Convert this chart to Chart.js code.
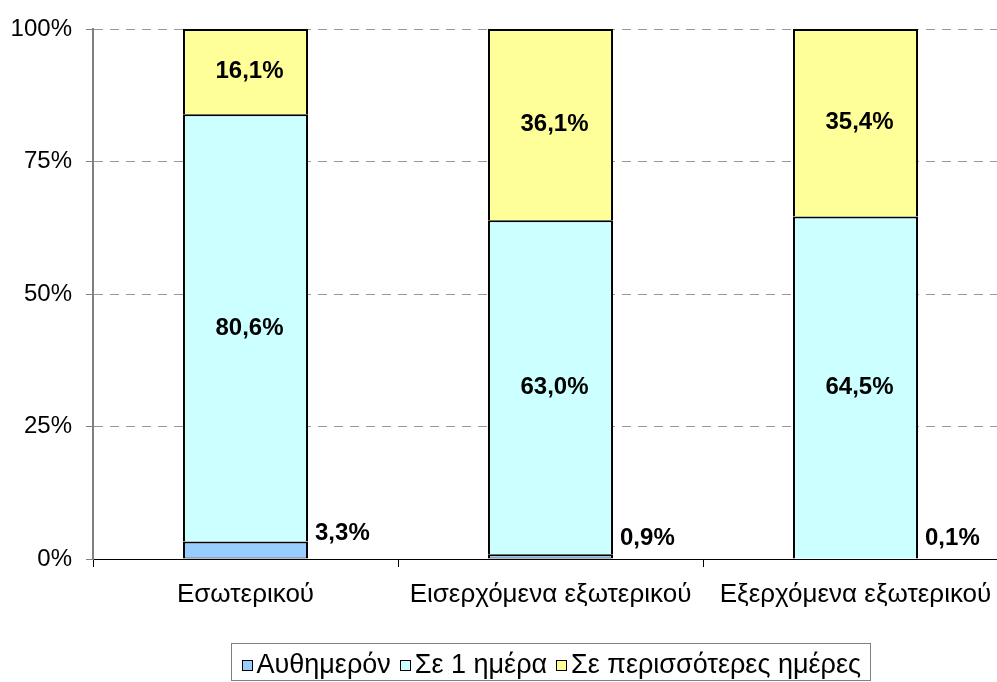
<!DOCTYPE html>
<html>
<head>
<meta charset="utf-8">
<script src="https://cdn.jsdelivr.net/npm/chart.js@4/dist/chart.umd.min.js"></script>
<style>
  html, body { margin: 0; padding: 0; background: #fff; overflow: hidden; }
  #wrap { width: 1010px; height: 682px; position: relative; }
</style>
</head>
<body>
<div id="wrap"><canvas id="c" width="1010" height="682"></canvas></div>
<script>
const categories = ["Εσωτερικού", "Εισερχόμενα εξωτερικού", "Εξερχόμενα εξωτερικού"];
const seriesNames = ["Αυθημερόν", "Σε 1 ημέρα", "Σε περισσότερες ημέρες"];
const sameDay = [3.3, 0.9, 0.1];
const oneDay = [80.6, 63.0, 64.5];
const moreDays = [16.1, 36.1, 35.4];
const yTicks = [0, 25, 50, 75, 100];

const FONT = "'Liberation Sans', Arial, sans-serif";
const colors = ["#99CCFF", "#CCFFFF", "#FFFF99"];

function fmt(v) { return v.toFixed(1).replace('.', ',') + '%'; }

const labelPlugin = {
  id: 'valueLabels',
  afterDatasetsDraw(chart) {
    const ctx = chart.ctx;
    ctx.save();
    ctx.font = "bold 24px " + FONT;
    ctx.fillStyle = '#000';
    ctx.textBaseline = 'middle';
    chart.data.datasets.forEach((ds, di) => {
      const meta = chart.getDatasetMeta(di);
      meta.data.forEach((el, i) => {
        const v = ds.data[i];
        const p = el.getProps(['x', 'y', 'base', 'width'], true);
        if (di === 0) {
          ctx.textAlign = 'left';
          const ty = Math.min(p.y - 8, 538);
          ctx.fillText(fmt(v), p.x + p.width / 2 + 7, ty);
        } else {
          ctx.textAlign = 'center';
          ctx.fillText(fmt(v), p.x + 4, (p.y + p.base) / 2);
        }
      });
    });
    ctx.restore();
  }
};

const legendPlugin = {
  id: 'customLegend',
  afterDraw(chart) {
    const ctx = chart.ctx;
    ctx.save();
    ctx.font = "27px " + FONT;
    const box = 11, gapMarker = 4, gapItem = 9, padX = 10;
    const widths = seriesNames.map(n => ctx.measureText(n).width);
    let total = padX * 2;
    widths.forEach((w, i) => { total += box + gapMarker + w + (i < widths.length - 1 ? gapItem : 0); });
    const cx = (chart.chartArea.left + chart.chartArea.right) / 2;
    const left = Math.round(cx - total / 2) + 0.5;
    const top = 643.5, h = 37, cy = 665;
    ctx.strokeStyle = '#808080';
    ctx.lineWidth = 1;
    ctx.strokeRect(left, top, Math.round(total), h);
    let x = left + padX;
    ctx.textBaseline = 'middle';
    ctx.textAlign = 'left';
    seriesNames.forEach((n, i) => {
      const bx = Math.round(x);
      ctx.fillStyle = colors[i];
      ctx.fillRect(bx, cy - 5, box, box);
      ctx.strokeStyle = '#000';
      ctx.strokeRect(bx + 0.5, cy - 5 + 0.5, box - 1, box - 1);
      x += box + gapMarker;
      ctx.fillStyle = '#000';
      ctx.fillText(n, x, cy + 1);
      x += widths[i] + gapItem;
    });
    ctx.restore();
  }
};

const values = [sameDay, oneDay, moreDays];
const datasets = seriesNames.map((n, i) => ({
  label: n,
  data: values[i],
  backgroundColor: colors[i],
  borderColor: '#000',
  borderWidth: { left: 2, right: 2, top: 2, bottom: i === 0 ? 1 : 0 },
  borderSkipped: false,
  categoryPercentage: 1.0,
  barPercentage: 0.41
}));

new Chart(document.getElementById('c'), {
  type: 'bar',
  data: { labels: categories, datasets },
  options: {
    responsive: false,
    animation: false,
    events: [],
    layout: { padding: { left: 0, right: 2, top: 29, bottom: 60 } },
    plugins: { legend: { display: false }, tooltip: { enabled: false } },
    scales: {
      x: {
        stacked: true,
        grid: { drawOnChartArea: false, drawTicks: true, tickLength: 8, tickColor: '#000', offset: true },
        border: { display: true, color: '#000', width: 1 },
        ticks: { color: '#000', font: { family: FONT, size: 26 }, padding: 12, maxRotation: 0, autoSkip: false },
        afterFit(s) { s.height = 63; }
      },
      y: {
        stacked: true,
        min: 0, max: 100,
        afterBuildTicks(s) { s.ticks = yTicks.map(v => ({ value: v })); },
        grid: {
          color: (c) => c.tick && c.tick.value === 0 ? 'rgba(0,0,0,0)' : '#999999',
          lineWidth: 1, tickLength: 7, tickColor: '#808080'
        },
        border: { display: true, color: '#808080', width: 2, dash: [9, 7] },
        ticks: { color: '#000', font: { family: FONT, size: 24 }, padding: 14, callback: v => v + '%' },
        afterFit(s) { s.width = 93; }
      }
    }
  },
  plugins: [labelPlugin, legendPlugin]
});
</script>
</body>
</html>
